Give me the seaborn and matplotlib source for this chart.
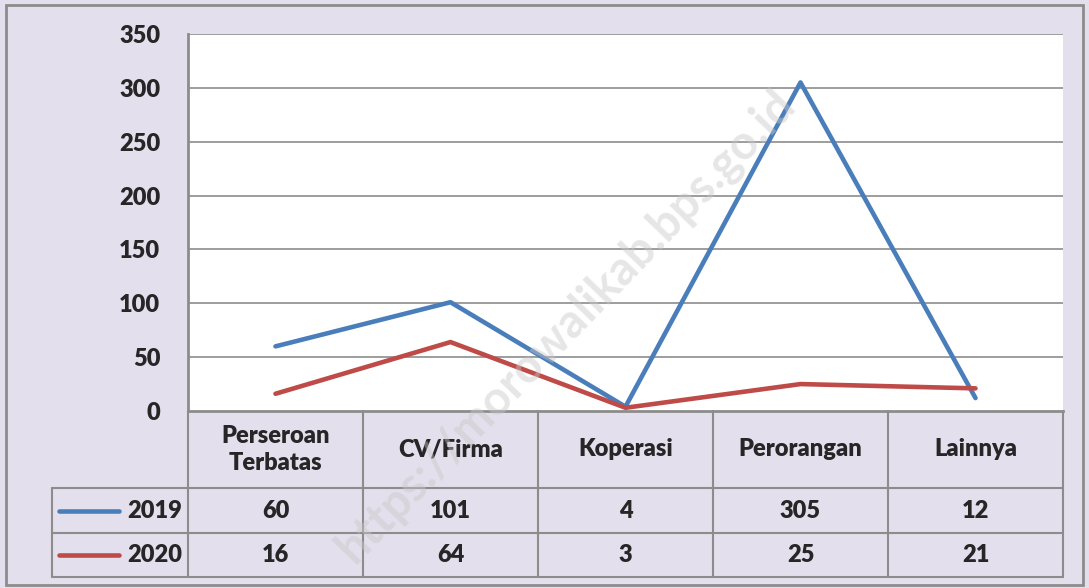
import pandas as pd
import numpy as np
import seaborn as sns
import matplotlib.pyplot as plt
from matplotlib.patches import Rectangle
from matplotlib.transforms import blended_transform_factory

categories = ["Perseroan\nTerbatas", "CV/Firma", "Koperasi", "Perorangan", "Lainnya"]
years = ["2019", "2020"]
values_2019 = [60, 101, 4, 305, 12]
values_2020 = [16, 64, 3, 25, 21]
yticks = [0, 50, 100, 150, 200, 250, 300, 350]
colors = {"2019": "#4A7EBB", "2020": "#BE4B48"}

df = pd.DataFrame({
    "pos": list(range(len(categories))) * 2,
    "value": values_2019 + values_2020,
    "year": ["2019"] * 5 + ["2020"] * 5,
})

sns.set_style("white")
plt.rcParams["font.family"] = ["Lato", "DejaVu Sans"]
plt.rcParams["font.weight"] = "heavy"

bg = "#E4DFEC"
grid_c = "#8C8C8C"
fs = 17
fw = "heavy"
fig = plt.figure(figsize=(10.89, 5.88), dpi=100, facecolor=bg)
ax = fig.add_axes([188/1089, 1-411/588, 875/1089, 377/588])
ax.set_facecolor("white")

# watermark (drawn under the lines)
fig.text(0.519, 0.445, "https://morowalikab.bps.go.id", rotation=46, ha="center",
         va="center", fontsize=34, fontweight="bold", color="#C8C8C8", alpha=0.45,
         zorder=2)

sns.lineplot(data=df, x="pos", y="value", hue="year", palette=colors, ax=ax,
             linewidth=3.3, legend=False, zorder=3)

ax.set_xlim(-0.5, len(categories) - 0.5)
ax.set_ylim(0, 350)
ax.set_yticks(yticks)
ax.set_yticklabels([str(t) for t in yticks], fontsize=fs, fontweight=fw)
ax.tick_params(axis="y", length=0, pad=20)
ax.set_xticks([])
ax.set_xlabel("")
ax.set_ylabel("")
for y in yticks[1:]:
    ax.axhline(y, color=grid_c, lw=1.2, zorder=1)
for s in ["top", "right"]:
    ax.spines[s].set_visible(False)
ax.spines["left"].set_color(grid_c)
ax.spines["left"].set_linewidth(2)
ax.spines["bottom"].set_color(grid_c)
ax.spines["bottom"].set_linewidth(2)

# data table below the axis
tr = blended_transform_factory(ax.transData, ax.transAxes)
h_bot = -77/377
r1_bot = -122/377
r2_bot = -166/377
left_x = -0.5 - 136/175
n = len(categories)
kw = dict(color=grid_c, lw=1.5, transform=tr, clip_on=False)
ax.plot([left_x, n - 0.5], [h_bot, h_bot], **kw)
ax.plot([left_x, n - 0.5], [r1_bot, r1_bot], **kw)
ax.plot([left_x, n - 0.5], [r2_bot, r2_bot], **kw)
for i in range(n + 1):
    ax.plot([i - 0.5, i - 0.5], [0, r2_bot], **kw)
ax.plot([left_x, left_x], [h_bot, r2_bot], **kw)

for i, c in enumerate(categories):
    ax.text(i, h_bot / 2, c, transform=tr, ha="center", va="center",
            fontsize=fs, fontweight=fw, linespacing=1.3)
rows = [(years[0], values_2019, r1_bot, h_bot), (years[1], values_2020, r2_bot, r1_bot)]
for yr, vals, bot, top in rows:
    ym = (bot + top) / 2
    for i, v in enumerate(vals):
        ax.text(i, ym, str(v), transform=tr, ha="center", va="center",
                fontsize=fs, fontweight=fw)
    ax.text(-0.535, ym, yr, transform=tr, ha="right", va="center",
            fontsize=fs, fontweight=fw)
    ax.plot([left_x + 0.04, left_x + 0.38], [ym, ym], color=colors[yr], lw=3.3,
            solid_capstyle="round", transform=tr, clip_on=False)

fig.patches.append(Rectangle((6/1089, 3/588), 1077/1089, 580/588, transform=fig.transFigure,
                             fill=False, edgecolor="#8C8C8C", lw=2))

fig.savefig("out.png", dpi=100, facecolor=bg)
